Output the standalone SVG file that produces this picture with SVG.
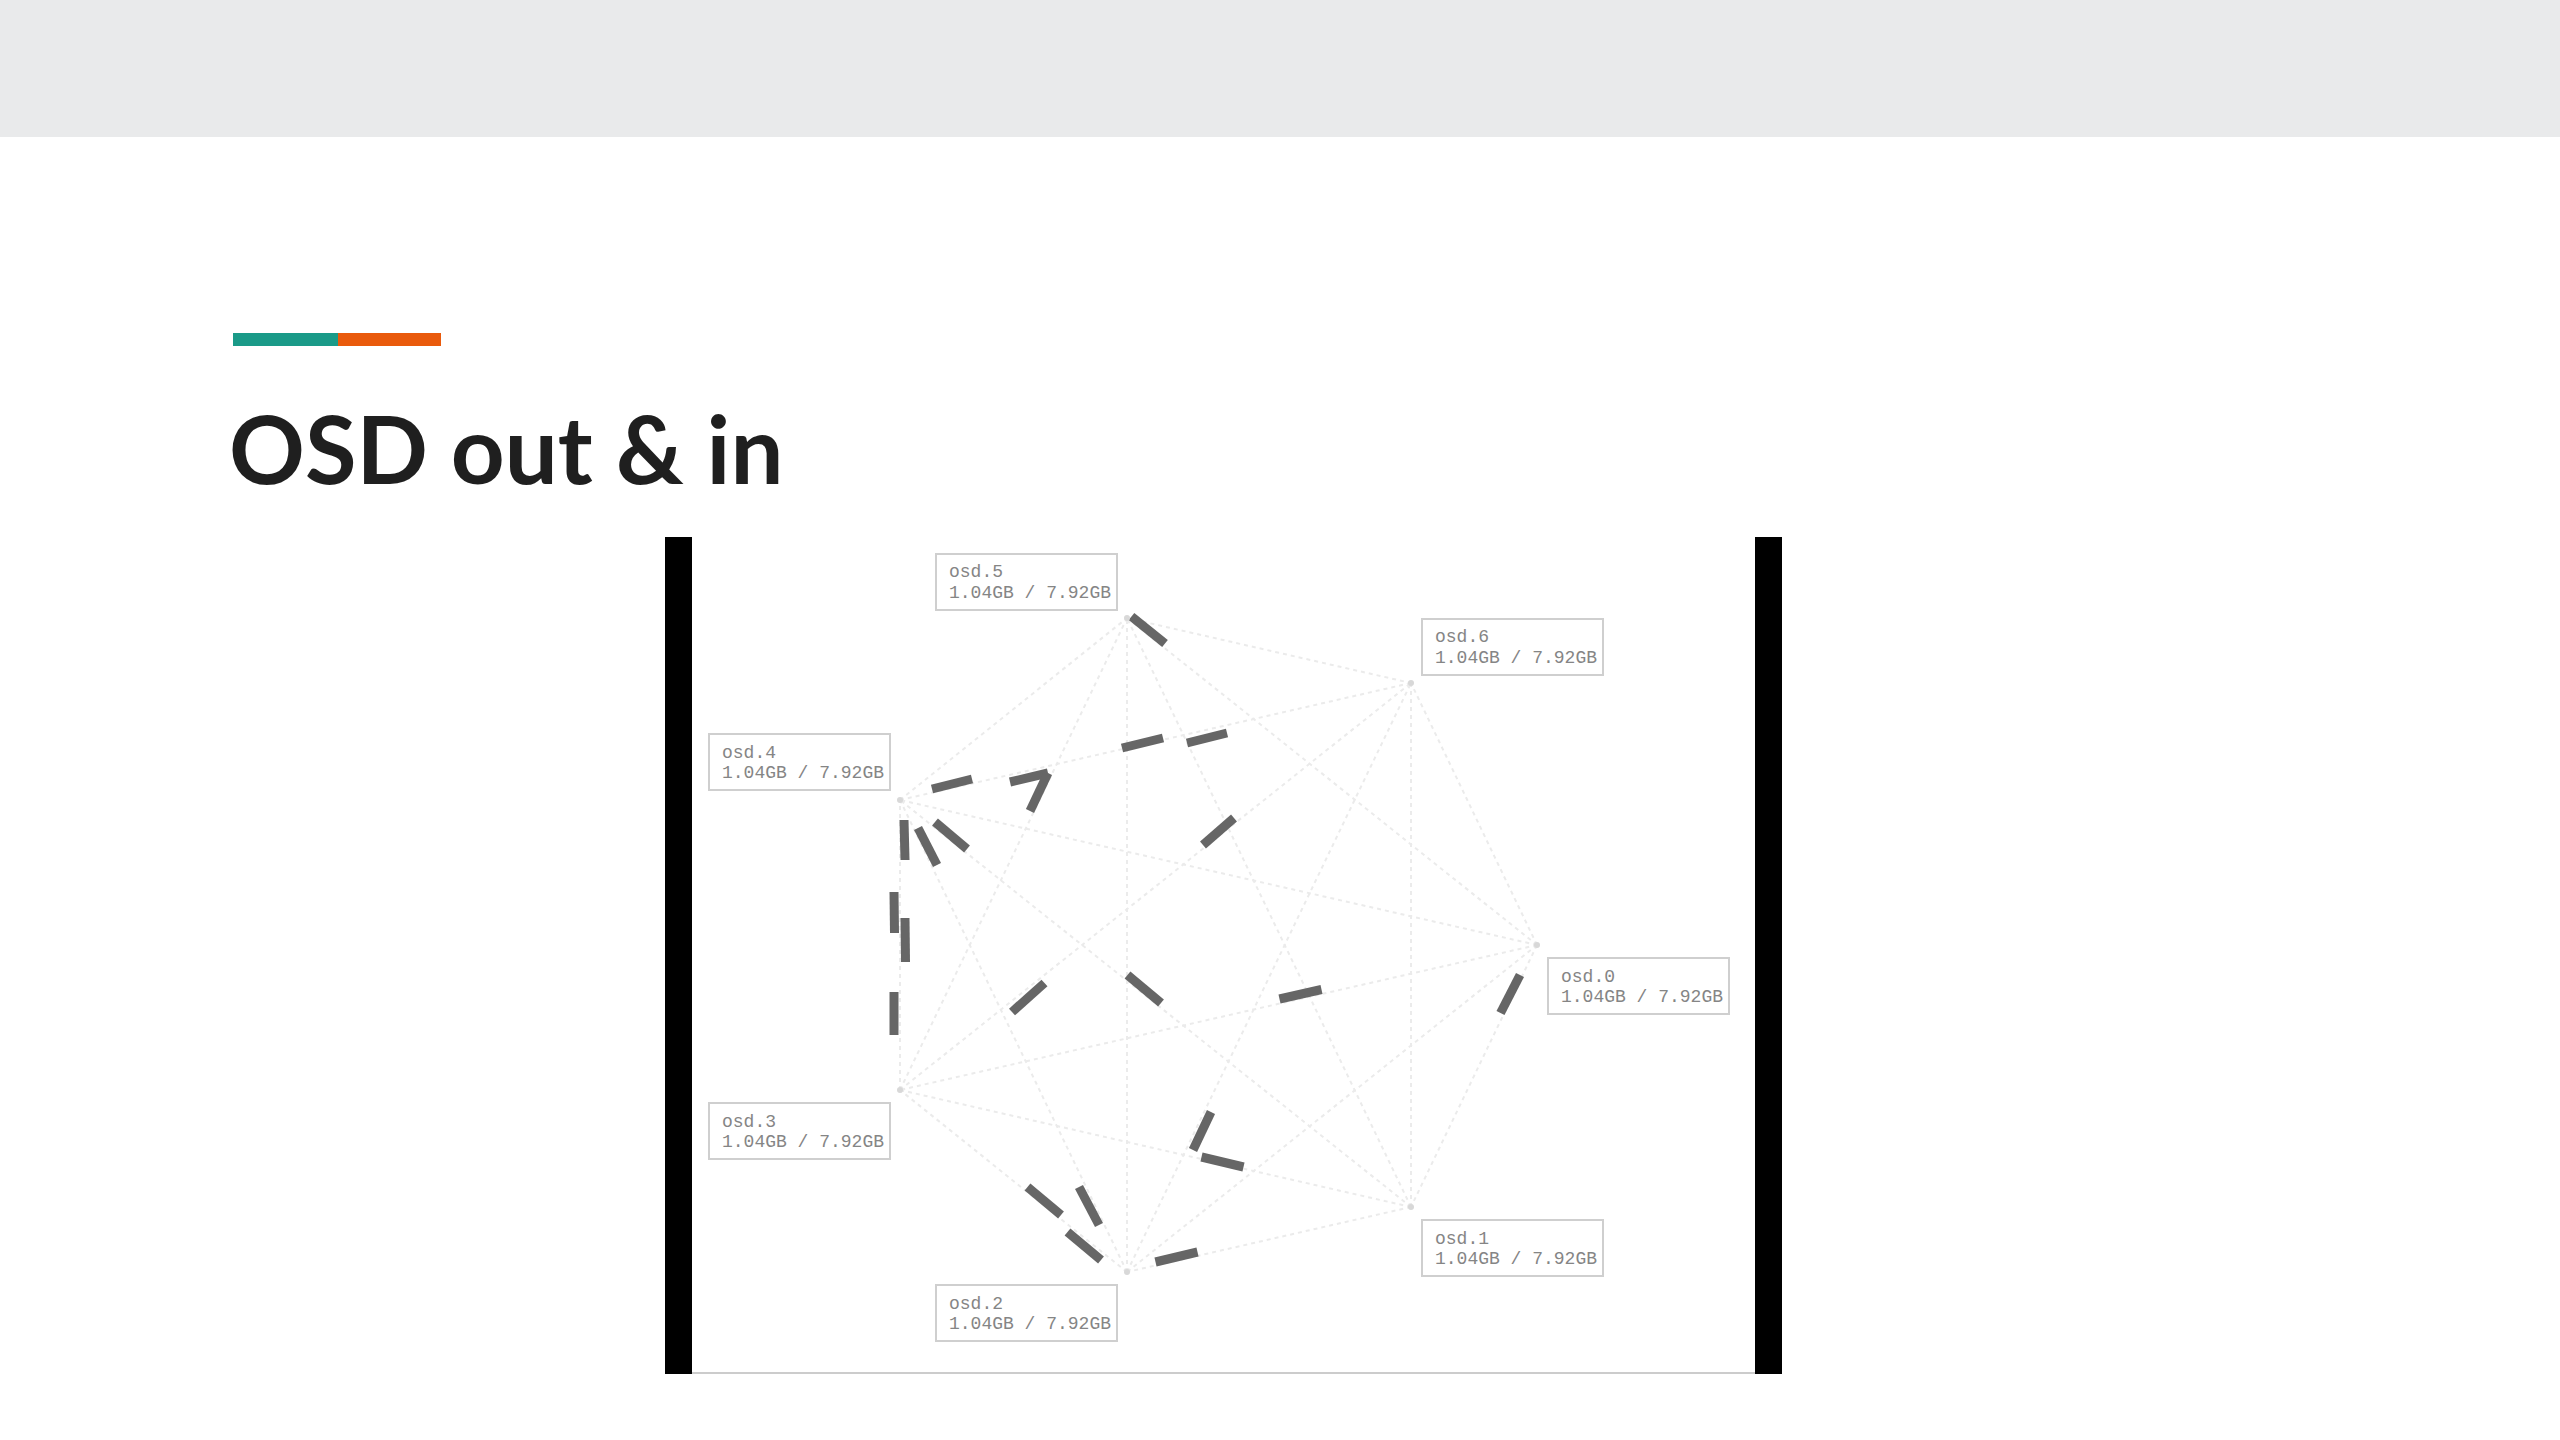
<svg xmlns="http://www.w3.org/2000/svg" width="2560" height="1440" viewBox="0 0 2560 1440">
  <style>
    .title { font-family: "Lato", "Liberation Sans", sans-serif; font-weight: 700; font-size: 94px; fill: #1f1f1f; }
    .box { fill: #ffffff; stroke: #cfcfcf; stroke-width: 2; }
    .lbl { font-family: "Liberation Mono", "DejaVu Sans Mono", monospace; font-size: 18px; fill: #858585; }
    .edge { stroke: #ebebeb; stroke-width: 2; stroke-dasharray: 4 4; fill: none; }
    .dot { fill: #d8d8d8; }
    .pkt { stroke: #666666; stroke-width: 9; stroke-linecap: butt; }
  </style>
  <rect x="0" y="0" width="2560" height="1440" fill="#ffffff"/>
  <rect x="0" y="0" width="2560" height="137" fill="#e9eaeb"/>
  <rect x="233" y="333" width="105" height="13" fill="#1a9a88"/>
  <rect x="338" y="333" width="103" height="13" fill="#e95a0c"/>
  <text class="title" x="229" y="484">OSD out &amp; in</text>

  <!-- embedded picture frame -->
  <rect x="692" y="537" width="1063" height="837" fill="#ffffff"/>
  <rect x="665" y="537" width="27" height="837" fill="#000000"/>
  <rect x="1755" y="537" width="27" height="837" fill="#000000"/>
  <rect x="692" y="1372" width="1063" height="2" fill="#cccccc"/>

  <g id="connectors">
    <line class="edge" x1="1537" y1="945" x2="1411" y2="1207"/>
    <line class="edge" x1="1537" y1="945" x2="1127" y2="1272"/>
    <line class="edge" x1="1537" y1="945" x2="900" y2="1090"/>
    <line class="edge" x1="1537" y1="945" x2="900" y2="800"/>
    <line class="edge" x1="1537" y1="945" x2="1127" y2="618"/>
    <line class="edge" x1="1537" y1="945" x2="1411" y2="683"/>
    <line class="edge" x1="1411" y1="1207" x2="1127" y2="1272"/>
    <line class="edge" x1="1411" y1="1207" x2="900" y2="1090"/>
    <line class="edge" x1="1411" y1="1207" x2="900" y2="800"/>
    <line class="edge" x1="1411" y1="1207" x2="1127" y2="618"/>
    <line class="edge" x1="1411" y1="1207" x2="1411" y2="683"/>
    <line class="edge" x1="1127" y1="1272" x2="900" y2="1090"/>
    <line class="edge" x1="1127" y1="1272" x2="900" y2="800"/>
    <line class="edge" x1="1127" y1="1272" x2="1127" y2="618"/>
    <line class="edge" x1="1127" y1="1272" x2="1411" y2="683"/>
    <line class="edge" x1="900" y1="1090" x2="900" y2="800"/>
    <line class="edge" x1="900" y1="1090" x2="1127" y2="618"/>
    <line class="edge" x1="900" y1="1090" x2="1411" y2="683"/>
    <line class="edge" x1="900" y1="800" x2="1127" y2="618"/>
    <line class="edge" x1="900" y1="800" x2="1411" y2="683"/>
    <line class="edge" x1="1127" y1="618" x2="1411" y2="683"/>
    <g id="packets">
      <line class="pkt" x1="1131.5" y1="616.5" x2="1165" y2="643.5"/>
      <line class="pkt" x1="932" y1="789" x2="972" y2="779"/>
      <line class="pkt" x1="1010" y1="782" x2="1048" y2="773"/>
      <line class="pkt" x1="1122" y1="748" x2="1163" y2="738"/>
      <line class="pkt" x1="1187" y1="743" x2="1227" y2="733"/>
      <line class="pkt" x1="1048" y1="773" x2="1030" y2="811"/>
      <line class="pkt" x1="904" y1="820" x2="905" y2="860"/>
      <line class="pkt" x1="918" y1="828" x2="937" y2="865"/>
      <line class="pkt" x1="935" y1="822" x2="967" y2="849"/>
      <line class="pkt" x1="1234" y1="818" x2="1203" y2="845"/>
      <line class="pkt" x1="894" y1="892" x2="894.5" y2="933"/>
      <line class="pkt" x1="905" y1="918" x2="905.5" y2="962"/>
      <line class="pkt" x1="894" y1="992" x2="894" y2="1035"/>
      <line class="pkt" x1="1044.5" y1="983" x2="1012" y2="1012"/>
      <line class="pkt" x1="1127.5" y1="975" x2="1161" y2="1003"/>
      <line class="pkt" x1="1211" y1="1112" x2="1193" y2="1150"/>
      <line class="pkt" x1="1201.5" y1="1157" x2="1243.5" y2="1167"/>
      <line class="pkt" x1="1027.5" y1="1187" x2="1061" y2="1215"/>
      <line class="pkt" x1="1079" y1="1187" x2="1099" y2="1225"/>
      <line class="pkt" x1="1067.5" y1="1232" x2="1101" y2="1260"/>
      <line class="pkt" x1="1155.5" y1="1262" x2="1197.5" y2="1252"/>
      <line class="pkt" x1="1279.5" y1="999" x2="1321.5" y2="989.5"/>
      <line class="pkt" x1="1520" y1="975" x2="1500.5" y2="1013"/>
    </g>
  </g>

  <g id="osd0">
    <circle class="dot" cx="1537" cy="945" r="3"/>
    <rect class="box" x="1548" y="958" width="181" height="56"/>
    <text class="lbl" x="1561" y="982">osd.0</text>
    <text class="lbl" x="1561" y="1002">1.04GB / 7.92GB</text>
  </g>
  <g id="osd1">
    <circle class="dot" cx="1411" cy="1207" r="3"/>
    <rect class="box" x="1422" y="1220" width="181" height="56"/>
    <text class="lbl" x="1435" y="1244">osd.1</text>
    <text class="lbl" x="1435" y="1264">1.04GB / 7.92GB</text>
  </g>
  <g id="osd2">
    <circle class="dot" cx="1127" cy="1272" r="3"/>
    <rect class="box" x="936" y="1285" width="181" height="56"/>
    <text class="lbl" x="949" y="1309">osd.2</text>
    <text class="lbl" x="949" y="1329">1.04GB / 7.92GB</text>
  </g>
  <g id="osd3">
    <circle class="dot" cx="900" cy="1090" r="3"/>
    <rect class="box" x="709" y="1103" width="181" height="56"/>
    <text class="lbl" x="722" y="1127">osd.3</text>
    <text class="lbl" x="722" y="1147">1.04GB / 7.92GB</text>
  </g>
  <g id="osd4">
    <circle class="dot" cx="900" cy="800" r="3"/>
    <rect class="box" x="709" y="734" width="181" height="56"/>
    <text class="lbl" x="722" y="758">osd.4</text>
    <text class="lbl" x="722" y="778">1.04GB / 7.92GB</text>
  </g>
  <g id="osd5">
    <circle class="dot" cx="1127" cy="618" r="3"/>
    <rect class="box" x="936" y="554" width="181" height="56"/>
    <text class="lbl" x="949" y="577">osd.5</text>
    <text class="lbl" x="949" y="598">1.04GB / 7.92GB</text>
  </g>
  <g id="osd6">
    <circle class="dot" cx="1411" cy="683" r="3"/>
    <rect class="box" x="1422" y="619" width="181" height="56"/>
    <text class="lbl" x="1435" y="642">osd.6</text>
    <text class="lbl" x="1435" y="663">1.04GB / 7.92GB</text>
  </g>
</svg>
